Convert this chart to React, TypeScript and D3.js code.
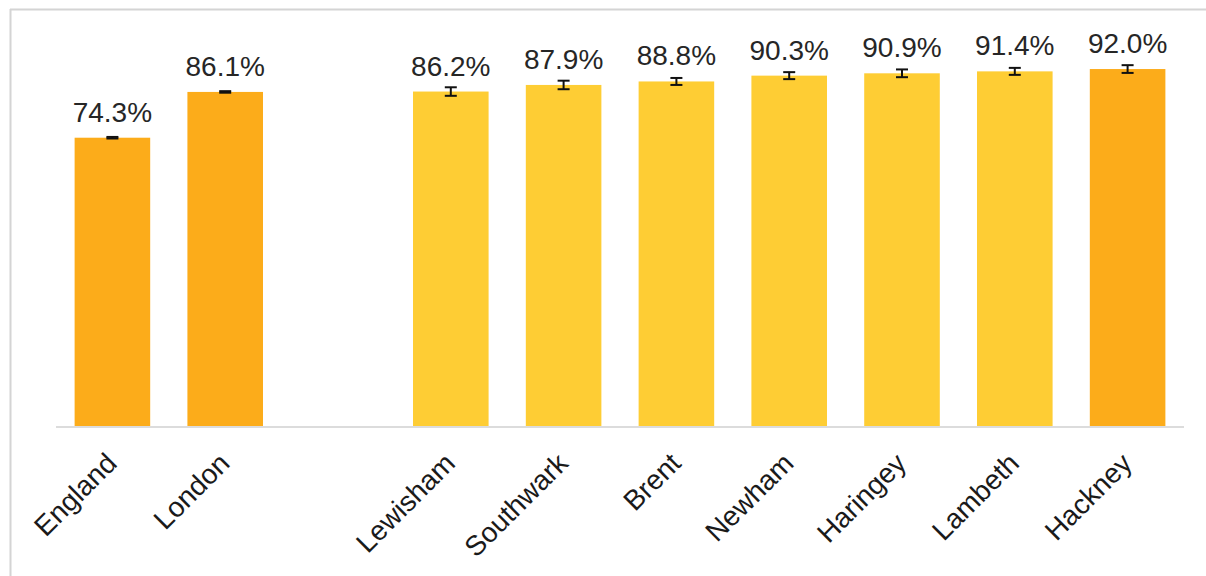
import React from "react";
import * as d3 from "d3";

const categories = ["England", "London", "", "Lewisham", "Southwark", "Brent", "Newham", "Haringey", "Lambeth", "Hackney"];
const areas = ["England", "London", "Lewisham", "Southwark", "Brent", "Newham", "Haringey", "Lambeth", "Hackney"];
const values = [74.3, 86.1, 86.2, 87.9, 88.8, 90.3, 90.9, 91.4, 92.0];
const errors = [0.2, 0.2, 1.1, 1.1, 0.9, 0.9, 1.0, 0.9, 1.0];
const highlighted = ["England", "London", "Hackney"];

const W = 1206;
const H = 576;
const ORANGE = "#FCAC1A";
const YELLOW = "#FECD34";
const FONT = "'Liberation Sans', Arial, sans-serif";

export default function App() {
  const x = d3.scaleBand<string>().domain(categories).range([56, 1184]).paddingInner(0.33).paddingOuter(0.165);
  const y = d3.scaleLinear().domain([0, 100]).range([426, 38]);
  const bw = x.bandwidth();

  return (
    <svg width={W} height={H} style={{ position: "absolute", left: 0, top: 0, background: "#fff" }}>
      <line x1={10} x2={W} y1={9.5} y2={9.5} stroke="#d4d4d4" strokeWidth={2} />
      <line x1={10.5} x2={10.5} y1={9} y2={H} stroke="#d4d4d4" strokeWidth={2} />
      <line x1={56} x2={1184} y1={y(0) + 1} y2={y(0) + 1} stroke="#dcdcdc" strokeWidth={2} />
      {areas.map((a, i) => {
        const x0 = x(a)!;
        const cx = x0 + bw / 2;
        const v = values[i];
        const e = errors[i];
        return (
          <g key={a}>
            <rect x={x0} y={y(v)} width={bw} height={y(0) - y(v)} fill={highlighted.includes(a) ? ORANGE : YELLOW} />
            <g stroke="#111" strokeWidth={2}>
              <line x1={cx} x2={cx} y1={y(v + e)} y2={y(v - e)} />
              <line x1={cx - 6} x2={cx + 6} y1={y(v + e)} y2={y(v + e)} />
              <line x1={cx - 6} x2={cx + 6} y1={y(v - e)} y2={y(v - e)} />
            </g>
            <text x={cx} y={y(v) - 16} textAnchor="middle" fontFamily={FONT} fontSize={28} fill="#262626">
              {v.toFixed(1)}%
            </text>
            <text
              transform={`translate(${cx + 6},${465}) rotate(-45)`}
              textAnchor="end"
              fontFamily={FONT}
              fontSize={28}
              fill="#1a1a1a"
            >
              {a}
            </text>
          </g>
        );
      })}
    </svg>
  );
}
